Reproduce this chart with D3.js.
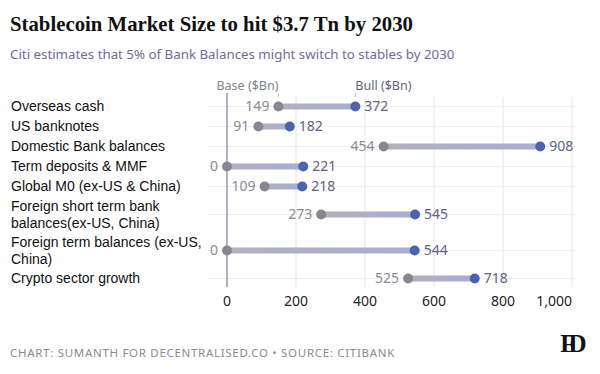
<!DOCTYPE html>
<html>
<head>
<meta charset="utf-8">
<script src="https://cdn.jsdelivr.net/npm/d3@7"></script>
<style>
  body { margin: 0; background: #fff; }
  svg { display: block; }
</style>
</head>
<body>
<svg width="600" height="374"></svg>
<script>
// categories (each line of a label as its own item)
var categories = [
  ['Overseas cash'],
  ['US banknotes'],
  ['Domestic Bank balances'],
  ['Term deposits & MMF'],
  ['Global M0 (ex-US & China)'],
  ['Foreign short term bank', 'balances(ex-US, China)'],
  ['Foreign term balances (ex-US,', 'China)'],
  ['Crypto sector growth']
];
var baseValues = [149, 91, 454, 0, 109, 273, 0, 525];
var bullValues = [372, 182, 908, 221, 218, 545, 544, 718];
var xTicks = [0, 200, 400, 600, 800, 1000];

var svg = d3.select('svg');
var sans = '"Noto Sans", sans-serif';
var arial = '"Liberation Sans", Arial, sans-serif';

var x = d3.scaleLinear().domain([0, 1000]).range([227, 572]);

// rows with two lines of label take more room
var rowUnits = categories.map(function (c) { return c.length > 1 ? 1.8 : 1; });
var starts = [];
var acc = 0;
rowUnits.forEach(function (u) { starts.push(acc); acc += u; });
var y = d3.scaleLinear().domain([0, acc]).range([96.5, 288.5]);
function rowY(i) { return y(starts[i] + rowUnits[i] / 2); }

// gradient for the connecting bars
var grad = svg.append('defs').append('linearGradient').attr('id', 'bar');
grad.append('stop').attr('offset', '0%').attr('stop-color', '#b4b0bd');
grad.append('stop').attr('offset', '100%').attr('stop-color', '#a6aed8');

// title + subtitle
svg.append('text')
   .attr('x', 10).attr('y', 31)
   .attr('font-family', '"Liberation Serif", serif')
   .attr('font-weight', 'bold')
   .attr('font-size', 21)
   .attr('textLength', 403)
   .attr('lengthAdjust', 'spacingAndGlyphs')
   .attr('fill', '#111')
   .text('Stablecoin Market Size to hit $3.7 Tn by 2030');

svg.append('text')
   .attr('x', 10).attr('y', 59)
   .attr('font-family', sans)
   .attr('font-size', 13.3)
   .attr('fill', '#76699a')
   .text('Citi estimates that 5% of Bank Balances might switch to stables by 2030');

// vertical grid
svg.selectAll('line.vgrid')
   .data(xTicks.slice(1))
   .enter()
   .append('line')
   .attr('class', 'vgrid')
   .attr('x1', x).attr('x2', x)
   .attr('y1', 97).attr('y2', 287)
   .attr('stroke', '#e6e6eb')
   .attr('stroke-width', 1);

// horizontal grid through each row
svg.selectAll('line.hgrid')
   .data(categories)
   .enter()
   .append('line')
   .attr('class', 'hgrid')
   .attr('x1', 208).attr('x2', 577)
   .attr('y1', function (d, i) { return rowY(i); })
   .attr('y2', function (d, i) { return rowY(i); })
   .attr('stroke', '#eeeef1')
   .attr('stroke-width', 1);

// zero line
svg.append('line')
   .attr('x1', x(0)).attr('x2', x(0))
   .attr('y1', 93).attr('y2', 287)
   .attr('stroke', '#8a8499')
   .attr('stroke-width', 1.3);

// x tick labels
svg.selectAll('text.xtick')
   .data(xTicks)
   .enter()
   .append('text')
   .attr('class', 'xtick')
   .attr('x', x)
   .attr('y', 306)
   .attr('text-anchor', function (d) { return d === 1000 ? 'end' : 'middle'; })
   .attr('font-family', sans)
   .attr('font-size', 14)
   .attr('fill', '#222')
   .text(d3.format(','));

// category labels
var labels = svg.selectAll('text.cat')
   .data(categories)
   .enter()
   .append('text')
   .attr('class', 'cat')
   .attr('font-family', arial)
   .attr('font-size', 14)
   .attr('fill', '#111');
labels.each(function (d, i) {
  var t = d3.select(this);
  var top = rowY(i) - (d.length - 1) * 8.25;
  d.forEach(function (line, j) {
    t.append('tspan')
     .attr('x', 11)
     .attr('y', top + j * 16.5)
     .attr('dy', '0.35em')
     .text(line);
  });
});

// headers above first row
svg.append('text')
   .attr('x', x(baseValues[0])).attr('y', 90)
   .attr('text-anchor', 'end')
   .attr('font-family', sans).attr('font-size', 12.5)
   .attr('fill', '#84838f')
   .text('Base ($Bn)');
svg.append('text')
   .attr('x', x(bullValues[0])).attr('y', 90)
   .attr('font-family', sans).attr('font-size', 12.5)
   .attr('fill', '#63657e')
   .text('Bull ($Bn)');
[baseValues[0], bullValues[0]].forEach(function (v) {
  svg.append('line')
     .attr('x1', x(v)).attr('x2', x(v))
     .attr('y1', 93).attr('y2', 97)
     .attr('stroke', '#b8b8c0');
});

// dumbbells
var rows = svg.selectAll('g.row')
   .data(categories)
   .enter()
   .append('g')
   .attr('class', 'row');

rows.append('rect')
    .attr('x', function (d, i) { return x(baseValues[i]); })
    .attr('y', function (d, i) { return rowY(i) - 3; })
    .attr('width', function (d, i) { return x(bullValues[i]) - x(baseValues[i]); })
    .attr('height', 6)
    .attr('fill', 'url(#bar)');

rows.append('circle')
    .attr('cx', function (d, i) { return x(baseValues[i]); })
    .attr('cy', function (d, i) { return rowY(i); })
    .attr('r', 5)
    .attr('fill', '#898591');

rows.append('circle')
    .attr('cx', function (d, i) { return x(bullValues[i]); })
    .attr('cy', function (d, i) { return rowY(i); })
    .attr('r', 5)
    .attr('fill', '#4c63b0');

rows.append('text')
    .attr('x', function (d, i) { return x(baseValues[i]) - 9; })
    .attr('y', function (d, i) { return rowY(i); })
    .attr('dy', '0.35em')
    .attr('text-anchor', 'end')
    .attr('font-family', sans).attr('font-size', 14)
    .attr('fill', '#8c8b94')
    .text(function (d, i) { return baseValues[i]; });

rows.append('text')
    .attr('x', function (d, i) { return x(bullValues[i]) + 9; })
    .attr('y', function (d, i) { return rowY(i); })
    .attr('dy', '0.35em')
    .attr('font-family', sans).attr('font-size', 14)
    .attr('fill', '#5d6380')
    .text(function (d, i) { return bullValues[i]; });

// footer
svg.append('text')
   .attr('x', 10).attr('y', 357)
   .attr('font-family', sans)
   .attr('font-size', 11.5)
   .attr('letter-spacing', 0.7)
   .attr('fill', '#8b8b8e')
   .text('CHART: SUMANTH FOR DECENTRALISED.CO \u2022 SOURCE: CITIBANK');

// logo mark
svg.append('text')
   .attr('x', 570).attr('y', 352)
   .attr('text-anchor', 'middle')
   .attr('font-family', '"Liberation Serif", serif')
   .attr('font-weight', 'bold')
   .attr('font-size', 25)
   .attr('letter-spacing', -7)
   .attr('fill', '#111')
   .text('FD');
</script>
</body>
</html>
